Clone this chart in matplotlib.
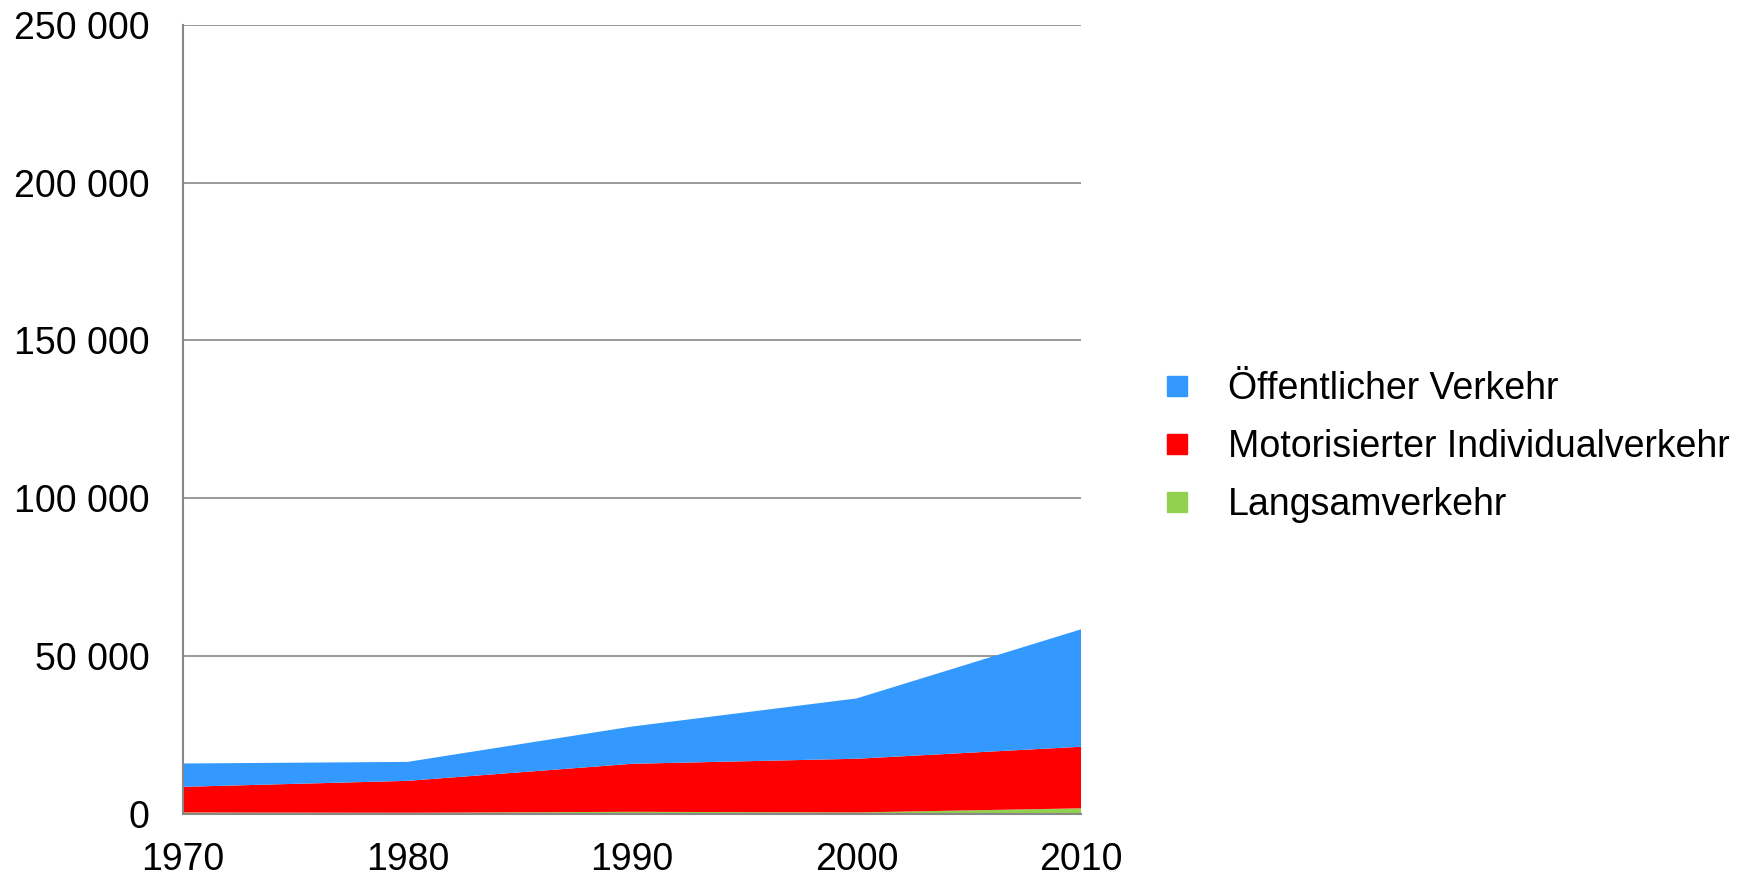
import matplotlib
matplotlib.use("Agg")
import matplotlib.pyplot as plt
from matplotlib.lines import Line2D
from matplotlib.ticker import FuncFormatter

plt.rcParams['font.family'] = ['Liberation Sans', 'DejaVu Sans']

years = [1970, 1980, 1990, 2000, 2010]
langsam = [500, 400, 700, 500, 1800]
motorisiert = [8100, 10100, 15200, 17000, 19500]
oeffentlich = [7400, 6000, 11800, 19100, 37200]

series_names = ["Langsamverkehr", "Motorisierter Individualverkehr", "Öffentlicher Verkehr"]
colors = ["#92D050", "#FF0000", "#3399FF"]

fig = plt.figure(figsize=(17.42, 8.8), dpi=100)
ax = fig.add_axes([0.105, 0.075, 0.5156, 0.897])

ax.stackplot(years, langsam, motorisiert, oeffentlich, colors=colors, linewidth=0)

ax.set_xlim(1970, 2010)
ax.set_ylim(0, 250000)
ax.set_xticks(years)
ax.set_yticks(range(0, 250001, 50000))
ax.yaxis.set_major_formatter(FuncFormatter(lambda v, p: f"{int(v):,}".replace(",", " ")))
ax.grid(axis='y', color='#888888', linewidth=1.2)
ax.set_axisbelow(True)
for s in ['top', 'right']:
    ax.spines[s].set_visible(False)
for s in ['left', 'bottom']:
    ax.spines[s].set_color('#888888')
    ax.spines[s].set_linewidth(1.5)
ax.tick_params(axis='both', length=0, labelsize=27)
ax.tick_params(axis='y', pad=24)
ax.tick_params(axis='x', pad=20)

# legend order top to bottom: Öffentlicher, Motorisierter, Langsam
handles = [Line2D([], [], marker='s', linestyle='none', markersize=14, color=c)
           for c in colors[::-1]]
fig.legend(handles, series_names[::-1], loc='center left', bbox_to_anchor=(0.6458, 0.492),
           frameon=False, fontsize=27, handlelength=1.0, handletextpad=0.85,
           labelspacing=0.58)

fig.savefig("out.png", dpi=100)
